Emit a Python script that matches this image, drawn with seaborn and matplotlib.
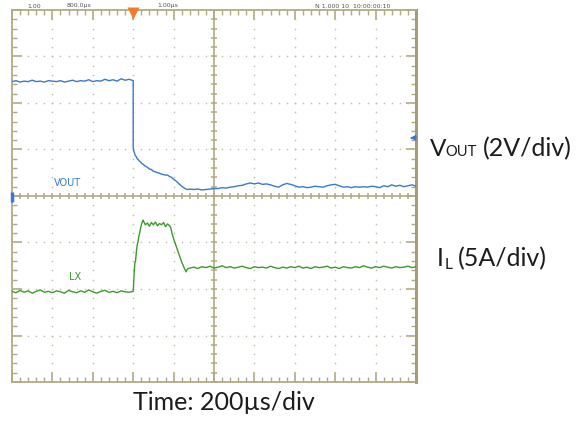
import numpy as np
import pandas as pd
import matplotlib
matplotlib.use("Agg")
import matplotlib.pyplot as plt
import seaborn as sns

# ---------------- data (divisions; time 200us/div) ----------------
vout_pre = [2.46, 2.48, 2.45, 2.47, 2.46, 2.49, 2.46, 2.47, 2.45, 2.48, 2.47,
            2.46, 2.48, 2.45, 2.47, 2.49, 2.46, 2.48, 2.47, 2.50, 2.46, 2.48,
            2.47, 2.51, 2.48, 2.50, 2.47, 2.52, 2.49, 2.51, 2.48]
vout_fall_t = [-2.0, -1.99, -1.97, -1.95, -1.92, -1.9, -1.87, -1.85, -1.82, -1.8,
               -1.75, -1.7, -1.65, -1.6, -1.55, -1.5, -1.45, -1.4, -1.35, -1.3,
               -1.25, -1.2, -1.15, -1.1, -1.05, -1.0, -0.95, -0.9, -0.85, -0.8,
               -0.75, -0.7, -0.65]
vout_fall = [1.05, 0.98, 0.93, 0.87, 0.84, 0.80, 0.78, 0.75, 0.74, 0.71,
             0.68, 0.64, 0.62, 0.58, 0.57, 0.53, 0.52, 0.50, 0.49, 0.47,
             0.46, 0.45, 0.45, 0.42, 0.40, 0.36, 0.33, 0.29, 0.25, 0.21,
             0.18, 0.15, 0.14]
vout_tail = [0.15, 0.14, 0.15, 0.13, 0.14, 0.15, 0.16,
             0.16, 0.18, 0.17, 0.19, 0.20, 0.22, 0.23, 0.26, 0.28, 0.26,
             0.28, 0.25, 0.26, 0.24, 0.21, 0.19, 0.24, 0.27, 0.25, 0.22,
             0.19, 0.20, 0.18, 0.19, 0.21, 0.20, 0.19, 0.22, 0.24, 0.25,
             0.22, 0.19, 0.20, 0.18, 0.20, 0.19, 0.20, 0.19, 0.21, 0.20,
             0.18, 0.22, 0.20, 0.24, 0.21, 0.23, 0.20, 0.22, 0.24, 0.21]

il_pre = [-2.05, -2.08, -2.03, -2.07, -2.04, -2.09, -2.05, -2.02, -2.07, -2.05,
          -2.08, -2.04, -2.06, -2.09, -2.03, -2.06, -2.08, -2.04, -2.07, -2.02,
          -2.06, -2.09, -2.05, -2.03, -2.07, -2.05, -2.08, -2.04, -2.06, -2.07,
          -2.05]
il_pulse_t = [-2.0, -1.98, -1.96, -1.94, -1.92, -1.9, -1.88, -1.86, -1.84, -1.82,
              -1.8, -1.78, -1.76, -1.74, -1.7, -1.65, -1.6, -1.55, -1.5, -1.45,
              -1.4, -1.35, -1.3, -1.25, -1.2, -1.15, -1.1, -1.07, -1.04, -1.0,
              -0.96, -0.92, -0.88, -0.84, -0.8, -0.76, -0.72, -0.69, -0.66]
il_pulse = [-2.05, -1.72, -1.45, -1.38, -1.18, -1.05, -0.98, -0.86, -0.80, -0.70,
            -0.63, -0.57, -0.52, -0.55, -0.62, -0.58, -0.65, -0.57, -0.62, -0.56,
            -0.64, -0.59, -0.62, -0.57, -0.66, -0.60, -0.64, -0.68, -0.80, -0.92,
            -1.02, -1.12, -1.22, -1.32, -1.42, -1.50, -1.58, -1.63, -1.57]
il_tail = [-1.55, -1.53, -1.56, -1.52, -1.54, -1.51, -1.55, -1.53, -1.50, -1.54,
           -1.52, -1.55, -1.53, -1.51, -1.54, -1.56, -1.52, -1.54, -1.53, -1.55,
           -1.51, -1.54, -1.56, -1.53, -1.55, -1.52, -1.54, -1.51, -1.55, -1.53,
           -1.56, -1.52, -1.54, -1.53, -1.51, -1.55, -1.53, -1.56, -1.52, -1.54,
           -1.55, -1.52, -1.54, -1.50, -1.53, -1.55, -1.52, -1.54, -1.51, -1.53,
           -1.55, -1.52, -1.54, -1.53, -1.51, -1.54, -1.52]

trigger_t = -2.0
vout_ref_level = 1.25

header_texts = ["1.00", "800.0\u00b5s", "1.00\u00b5s", "N 1.000 10  10:00:00:10"]

# ---------------- assemble ----------------
def build(pre, mid_t, mid, tail):
    t = list(np.linspace(-5.0, -2.0, len(pre))) + list(mid_t) + list(np.linspace(-0.6, 5.0, len(tail)))
    v = list(pre) + list(mid) + list(tail)
    return pd.DataFrame({"t": t, "v": v})

df_v = build(vout_pre, vout_fall_t, vout_fall, vout_tail)
df_i = build(il_pre, il_pulse_t, il_pulse, il_tail)

sns.set_style("white")
plt.rcParams["font.family"] = ["Lato", "DejaVu Sans"]

W, H = 580, 423
fig = plt.figure(figsize=(W / 100, H / 100), dpi=100)
fig.patch.set_facecolor("white")
ax = fig.add_axes([12 / W, 1 - 382 / H, 404 / W, 372 / H])
ax.set_xlim(-5, 5)
ax.set_ylim(-4, 4)

tan = "#b2aa84"
dotc = "#c4bfa8"

# dotted grid
minor = np.round(np.arange(-5, 5.001, 0.2), 3)
minor_y = np.round(np.arange(-4, 4.001, 0.2), 3)
for gx in range(-4, 5):
    if gx == 0:
        continue
    ax.plot(np.full_like(minor_y, gx), minor_y, ls="none", marker="o", ms=1.2,
            mec="none", mfc=dotc, zorder=1)
for gy in range(-3, 4):
    if gy == 0:
        continue
    ax.plot(minor, np.full_like(minor, gy), ls="none", marker="o", ms=1.2,
            mec="none", mfc=dotc, zorder=1)

# center axes with ticks
ax.axhline(0, color=tan, lw=1.2, zorder=2)
ax.axvline(0, color=tan, lw=1.2, zorder=2)
ax.plot(minor, np.zeros_like(minor), ls="none", marker="|", ms=5, mew=1.1, color=tan, zorder=2)
ax.plot(np.zeros_like(minor_y), minor_y, ls="none", marker="_", ms=5, mew=1.1, color=tan, zorder=2)

# border ticks
ax.set_xticks(np.arange(-5, 5.01, 1))
ax.set_yticks(np.arange(-4, 4.01, 1))
ax.set_xticks(minor, minor=True)
ax.set_yticks(minor_y, minor=True)
ax.tick_params(which="both", direction="in", top=True, right=True, bottom=True, left=True,
               labelbottom=False, labelleft=False, color=tan)
ax.tick_params(which="major", length=7, width=1.2)
ax.tick_params(which="minor", length=3.5, width=1.0)
for side, sp in ax.spines.items():
    sp.set_color(tan)
    sp.set_linewidth(1.3)
ax.spines["right"].set_linewidth(2.2)
ax.spines["right"].set_color("#a39c78")
ax.grid(False)

# traces
blue = "#3a78d2"
green = "#3c9a2c"
sns.lineplot(data=df_v, x="t", y="v", ax=ax, color=blue, lw=1.0, sort=False, estimator=None, zorder=5)
sns.lineplot(data=df_i, x="t", y="v", ax=ax, color=green, lw=1.0, sort=False, estimator=None, zorder=5)
ax.set_xlabel("")
ax.set_ylabel("")

# markers
ax.plot([trigger_t], [3.93], marker="v", ms=8, color="#f47a2a", mec="none", clip_on=False, zorder=6)
ax.annotate("", xy=(4.78, vout_ref_level), xytext=(4.98, vout_ref_level),
            arrowprops=dict(arrowstyle="-|>", color=blue, lw=1.2, mutation_scale=7), zorder=6)
ax.plot([-5.0], [-0.02], marker="|", ms=7, mew=2.5, color=blue, clip_on=False, zorder=6)

# in-plot channel labels
ax.text(-3.62, 0.28, "VOUT", color=blue, fontsize=7, ha="center", va="center",
        family=["Liberation Sans Narrow", "DejaVu Sans"])
ax.text(-3.45, -1.75, "LX", color=green, fontsize=7, ha="center", va="center",
        family=["Liberation Sans Narrow", "DejaVu Sans"])

# header readouts
hx = [27, 67, 157, 315]
for x, s in zip(hx, header_texts):
    fig.text(x / W, 1 - 6 / H, s, fontsize=4.5, color="#555555", ha="left", va="center",
             family="DejaVu Sans")

# right side labels
txtc = "#1c1c1c"
fig.text(430 / W, 1 - 156 / H, "V", fontsize=17.5, color=txtc, ha="left", va="baseline")
fig.text(445 / W, 1 - 156 / H, "OUT", fontsize=10.5, color=txtc, ha="left", va="baseline")
fig.text(483 / W, 1 - 156 / H, "(2V/div)", fontsize=18, color=txtc, ha="left", va="baseline")
fig.text(437 / W, 1 - 266 / H, "I", fontsize=18, color=txtc, ha="left", va="baseline")
fig.text(445 / W, 1 - 269 / H, "L", fontsize=11, color=txtc, ha="left", va="baseline")
fig.text(458 / W, 1 - 266 / H, "(5A/div)", fontsize=18, color=txtc, ha="left", va="baseline")
fig.text(133 / W, 1 - 410 / H, "Time: 200\u00b5s/div", fontsize=18, color=txtc, ha="left", va="baseline")

fig.savefig("out.png", dpi=100, facecolor="white")
